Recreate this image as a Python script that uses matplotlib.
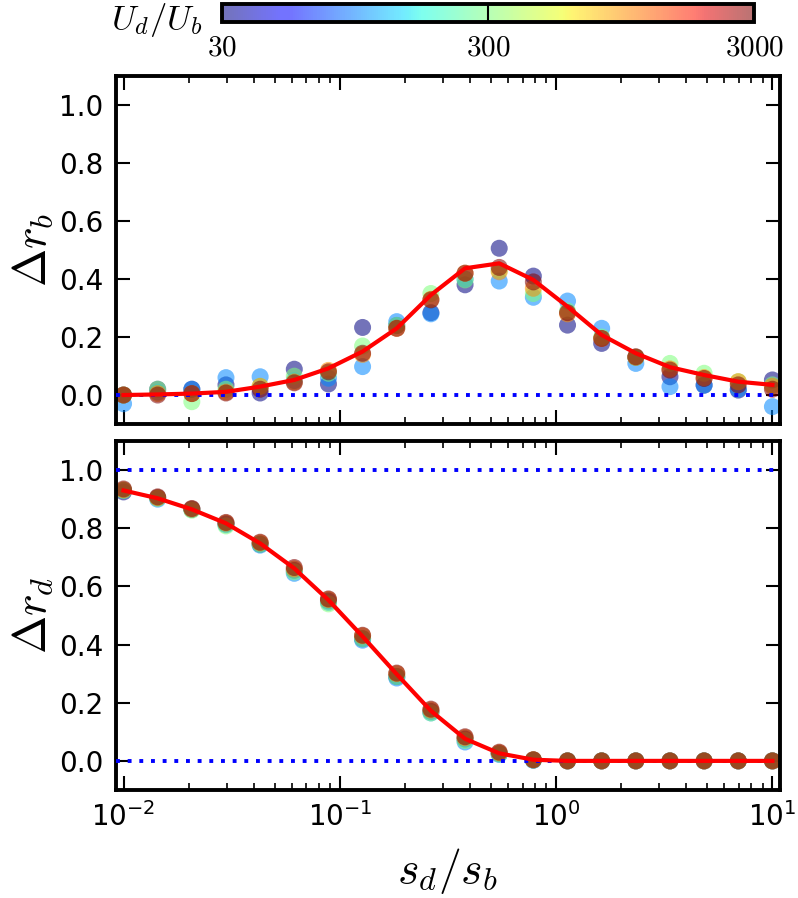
import numpy as np
import matplotlib
matplotlib.use("Agg")
import matplotlib.pyplot as plt
from matplotlib.colors import LogNorm, ListedColormap

plt.rcParams["mathtext.fontset"] = "cm"

# s_d/s_b values (20 log-spaced points from 1e-2 to 1e1)
sd_sb = [0.01, 0.01438, 0.02069, 0.02976, 0.04281, 0.06158, 0.08859, 0.1274,
         0.1833, 0.2637, 0.3793, 0.5456, 0.7848, 1.129, 1.624, 2.336, 3.360,
         4.833, 6.952, 10.0]

# U_d/U_b of each simulated series
ud_ub = [30, 100, 300, 1000, 3000]

# Delta r_b, one list per U_d/U_b
drb_30 = [0.0, 0.02, 0.02, 0.035, 0.007, 0.089, 0.038, 0.233, 0.24, 0.284,
          0.38, 0.506, 0.41, 0.241, 0.178, 0.13, 0.063, 0.034, 0.017, 0.052]
drb_100 = [-0.03, 0.01, 0.02, 0.06, 0.063, 0.05, 0.058, 0.098, 0.253, 0.28,
           0.40, 0.393, 0.337, 0.324, 0.23, 0.109, 0.029, 0.034, 0.02, -0.04]
drb_300 = [0.0, 0.02, -0.023, 0.02, 0.03, 0.065, 0.075, 0.169, 0.24, 0.35,
           0.397, 0.43, 0.35, 0.29, 0.2, 0.13, 0.109, 0.075, 0.046, 0.035]
drb_1000 = [0.0, 0.005, 0.005, 0.01, 0.03, 0.045, 0.085, 0.14, 0.23, 0.33,
            0.42, 0.425, 0.368, 0.28, 0.195, 0.13, 0.09, 0.06, 0.046, 0.03]
drb_3000 = [0.0, 0.0, 0.005, 0.007, 0.02, 0.042, 0.08, 0.144, 0.23, 0.328,
            0.42, 0.44, 0.39, 0.284, 0.195, 0.132, 0.086, 0.057, 0.035, 0.02]
drb_theory = [0.0, 0.002, 0.005, 0.011, 0.029, 0.052, 0.092, 0.15, 0.23, 0.345,
              0.437, 0.454, 0.397, 0.305, 0.207, 0.144, 0.096, 0.069, 0.046, 0.035]

# Delta r_d, one list per U_d/U_b
drd_30 = [0.925, 0.905, 0.865, 0.815, 0.745, 0.655, 0.55, 0.42, 0.29, 0.17,
          0.075, 0.025, 0.003, 0.0, 0.0, 0.0, 0.0, 0.0, 0.0, 0.0]
drd_100 = [0.93, 0.90, 0.865, 0.812, 0.742, 0.645, 0.545, 0.415, 0.285, 0.165,
           0.065, 0.022, 0.002, 0.0, 0.0, 0.0, 0.0, 0.0, 0.0, 0.0]
drd_300 = [0.93, 0.903, 0.862, 0.808, 0.745, 0.65, 0.54, 0.42, 0.29, 0.165,
           0.07, 0.024, 0.003, 0.0, 0.0, 0.0, 0.0, 0.0, 0.0, 0.0]
drd_1000 = [0.932, 0.905, 0.866, 0.818, 0.75, 0.66, 0.555, 0.43, 0.3, 0.175,
            0.08, 0.028, 0.004, 0.0, 0.0, 0.0, 0.0, 0.0, 0.0, 0.0]
drd_3000 = [0.935, 0.908, 0.868, 0.82, 0.752, 0.665, 0.557, 0.432, 0.302, 0.178,
            0.083, 0.03, 0.004, 0.0, 0.0, 0.0, 0.0, 0.0, 0.0, 0.0]
drd_theory = [0.93, 0.903, 0.865, 0.817, 0.748, 0.662, 0.553, 0.428, 0.298, 0.172,
              0.076, 0.026, 0.004, 0.0, 0.0, 0.0, 0.0, 0.0, 0.0, 0.0]

drb_series = [drb_30, drb_100, drb_300, drb_1000, drb_3000]
drd_series = [drd_30, drd_100, drd_300, drd_1000, drd_3000]

# jet with transparency baked in
jet_cols = plt.get_cmap("jet")(np.linspace(0, 1, 256))
jet_cols[:, 3] = 0.55
cmap = ListedColormap(jet_cols)
norm = LogNorm(vmin=30, vmax=3000)

fig = plt.figure(figsize=(7.98, 8.98), dpi=100)
ax1 = fig.add_axes([0.145, 0.5278, 0.832, 0.3876])
ax2 = fig.add_axes([0.145, 0.1203, 0.832, 0.3886])
cax = fig.add_axes([0.278, 0.9755, 0.667, 0.020])


def style_axis(ax):
    ax.set_xscale("log")
    ax.set_xlim(0.0092, 10.8)
    ax.set_ylim(-0.1, 1.1)
    ax.set_yticks([0.0, 0.2, 0.4, 0.6, 0.8, 1.0])
    ax.tick_params(which="both", direction="in", top=True, right=True,
                   labelsize=20, pad=9)
    ax.tick_params(which="major", length=10, width=1.5)
    ax.tick_params(which="minor", length=5, width=1.2)
    for sp in ax.spines.values():
        sp.set_linewidth(2.8)


for ax, series, theory in [(ax1, drb_series, drb_theory), (ax2, drd_series, drd_theory)]:
    for u, vals in zip(ud_ub, series):
        ax.scatter(sd_sb, vals, s=150, color=cmap(norm(u)), edgecolors="none", zorder=2)
    ax.axhline(0.0, color="blue", linestyle=(0, (1, 2)), linewidth=2.8,
               dash_capstyle="butt", zorder=3)
    ax.plot(sd_sb, theory, color="red", linewidth=3, zorder=4)
    style_axis(ax)

ax2.axhline(1.0, color="blue", linestyle=(0, (1, 2)), linewidth=2.8,
            dash_capstyle="butt", zorder=3)

ax1.tick_params(labelbottom=False)

ax1.set_ylabel(r"$\Delta r_b$", fontsize=33)
ax1.yaxis.set_label_coords(-0.09, 0.5)
ax2.set_ylabel(r"$\Delta r_d$", fontsize=33)
ax2.yaxis.set_label_coords(-0.09, 0.5)
ax2.set_xlabel(r"$s_d/s_b$", fontsize=33)
ax2.xaxis.set_label_coords(0.5, -0.16)

# colour bar on top
sm = plt.cm.ScalarMappable(norm=norm, cmap=cmap)
cb = fig.colorbar(sm, cax=cax, orientation="horizontal")
cb.set_ticks([30, 300, 3000])
cb.set_ticklabels([r"$30$", r"$300$", r"$3000$"])
cb.ax.minorticks_off()
cb.ax.tick_params(direction="in", length=13, width=1.5, labelsize=21, pad=8)
cb.outline.set_linewidth(2.8)
fig.text(0.197, 0.978, r"$U_d/U_b$", fontsize=25, ha="center", va="center")

plt.savefig("out.png", dpi=100)
